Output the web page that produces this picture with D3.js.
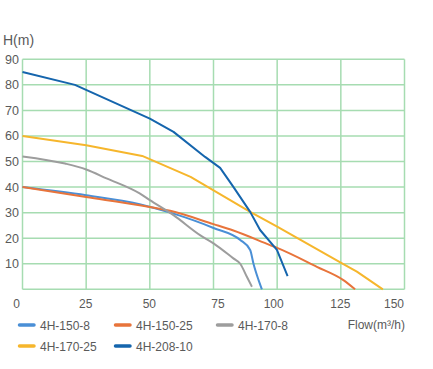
<!DOCTYPE html>
<html>
<head>
<meta charset="utf-8">
<script src="https://cdn.jsdelivr.net/npm/d3@7"></script>
<style>
  body { margin: 0; background: #fff; }
  text { font-family: "Liberation Sans", Arial, sans-serif; fill: #5a5a5a; }
</style>
</head>
<body>
<svg id="chart"></svg>
<script>
var width = 433, height = 369;
var svg = d3.select("#chart").attr("width", width).attr("height", height);

// data (flow m3/h, head m)
var names = ["4H-150-8", "4H-150-25", "4H-170-8", "4H-170-25", "4H-208-10"];
var colors = ["#4a8fd6", "#e8743b", "#9d9d9d", "#f6b62c", "#1565ad"];
var xTicks = [0, 25, 50, 75, 100, 125, 150];
var yTicks = [10, 20, 30, 40, 50, 60, 70, 80, 90];

var pump150_8 = [[0, 40], [25, 36.8], [46, 33.3], [59, 29.7], [75, 24], [85.5, 19.3], [89.4, 15.4], [90.7, 10], [92.7, 3.6], [94, 0]];
var pump150_25 = [[0, 40], [25, 36.1], [46, 32.9], [58, 30.7], [75, 25.5], [82.8, 23], [97.2, 17.3], [100, 16.2], [115.6, 8.8], [126, 3.6], [130.6, 0]];
var pump170_8 = [[0, 52], [16.7, 49.2], [25, 46.9], [33, 43.4], [46, 37.5], [50, 34.9], [59.3, 29], [69.7, 21.2], [75, 18], [82.8, 12.1], [85.5, 10], [88.1, 4.9], [90.1, 1]];
var pump170_25 = [[0, 60], [25, 56.4], [47, 52.2], [66, 44], [89.4, 30.3], [100, 24.5], [125.3, 10.2], [131.3, 6.9], [141.5, 0]];
var pump208_10 = [[0, 85], [20.6, 80], [50, 66.8], [59.3, 61.6], [71.7, 51.8], [77.6, 47.5], [82.8, 40.1], [89.4, 30.3], [93.3, 23.2], [99.9, 15.4], [104.1, 5.2]];

var series = [pump150_8, pump150_25, pump170_8, pump170_25, pump208_10];
var smooth = [true, true, true, false, false];

var x = d3.scaleLinear().domain([0, 150]).range([22.5, 404.5]);
var y = d3.scaleLinear().domain([0, 90]).range([289.3, 59.3]);

// grid
var grid = svg.append("g");
grid.selectAll(".vg")
  .data(xTicks)
  .enter().append("line")
  .attr("x1", d => x(d)).attr("x2", d => x(d))
  .attr("y1", y(0)).attr("y2", y(90))
  .attr("stroke", "#a6dcb1").attr("stroke-width", 1.5);
grid.selectAll(".hg")
  .data([0].concat(yTicks))
  .enter().append("line")
  .attr("x1", x(0)).attr("x2", x(150))
  .attr("y1", d => y(d)).attr("y2", d => y(d))
  .attr("stroke", "#a6dcb1").attr("stroke-width", 1.5);

// axes (labels only)
var xAxis = svg.append("g")
  .attr("transform", "translate(0," + y(0) + ")")
  .call(d3.axisBottom(x).tickValues(xTicks).tickSize(0).tickPadding(10));
xAxis.select(".domain").remove();
xAxis.selectAll("text")
  .style("font-size", "12px")
  .attr("text-anchor", function (d) {
    if (d == 0 || d == 150) return "end";
    return "middle";
  })
  .attr("dx", function (d) {
    if (d == 0) return -3;
    if (d == 150) return -1;
    if (d == 75) return 4;
    if (d == 100) return -4;
    return -1;
  });

var yAxis = svg.append("g")
  .attr("transform", "translate(" + x(0) + ",0)")
  .call(d3.axisLeft(y).tickValues(yTicks).tickSize(0).tickPadding(3.5));
yAxis.select(".domain").remove();
yAxis.selectAll("text").style("font-size", "12.5px");

svg.append("text").attr("x", 3).attr("y", 45).style("font-size", "14px").text("H(m)");

// curves
var lineSmooth = d3.line().x(d => x(d[0])).y(d => y(d[1])).curve(d3.curveMonotoneX);
var lineStraight = d3.line().x(d => x(d[0])).y(d => y(d[1]));

svg.selectAll(".curve")
  .data(series)
  .enter().append("path")
  .attr("fill", "none")
  .attr("stroke", (d, i) => colors[i])
  .attr("stroke-width", 2)
  .attr("stroke-linejoin", "round")
  .attr("d", (d, i) => smooth[i] ? lineSmooth(d) : lineStraight(d));

// legend
var legendPos = [[18, 325], [114, 325], [216, 325], [18, 346], [114, 346]];
var legend = svg.selectAll(".legend")
  .data(names)
  .enter().append("g")
  .attr("transform", (d, i) => "translate(" + legendPos[i][0] + "," + legendPos[i][1] + ")");
legend.append("line")
  .attr("x1", 1.5).attr("x2", 16)
  .attr("y1", 0).attr("y2", 0)
  .attr("stroke", (d, i) => colors[i])
  .attr("stroke-width", 3.5)
  .attr("stroke-linecap", "round");
legend.append("text")
  .attr("x", 22).attr("y", 4.5)
  .style("font-size", "12px")
  .text(d => d);

svg.append("text")
  .attr("x", 405).attr("y", 329)
  .attr("text-anchor", "end")
  .style("font-size", "12px")
  .text("Flow(m³/h)");
</script>
</body>
</html>
